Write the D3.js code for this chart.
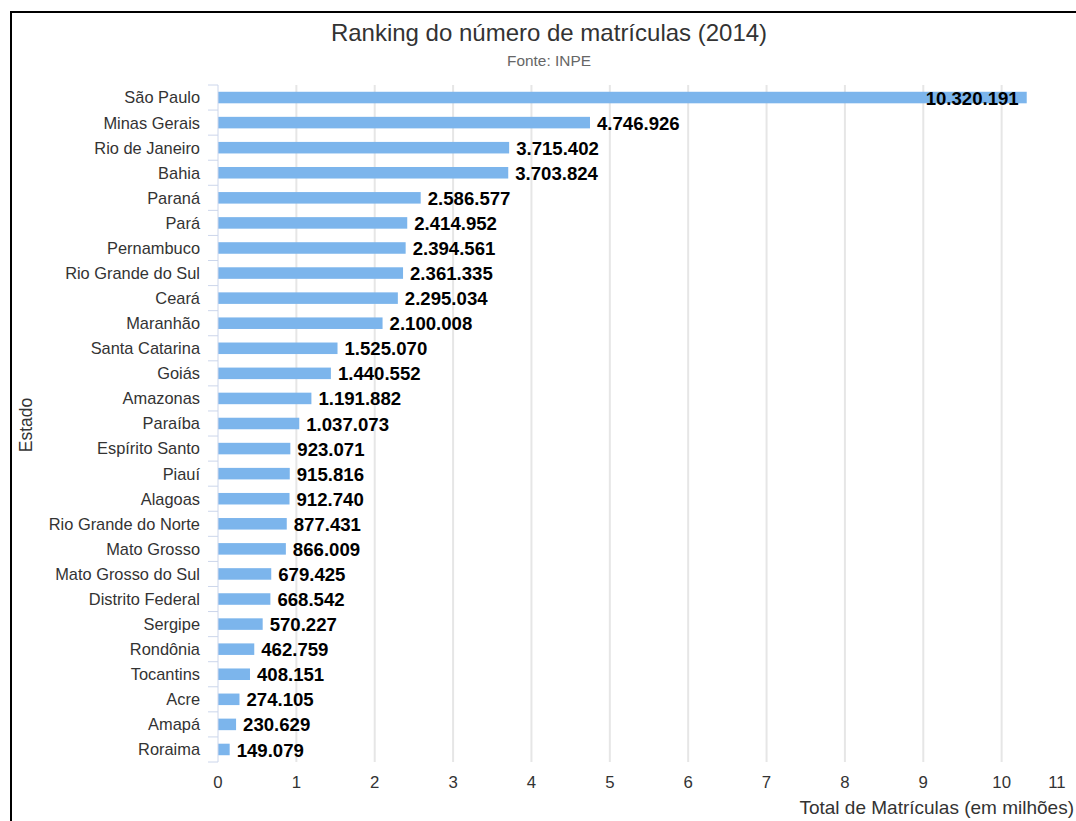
<!DOCTYPE html>
<html>
<head>
<meta charset="utf-8">
<script src="https://cdnjs.cloudflare.com/ajax/libs/d3/7.8.5/d3.min.js"></script>
<style>
  body { margin: 0; background: #fff; }
  svg { display: block; font-family: "Liberation Sans", Arial, sans-serif; }
</style>
</head>
<body>
<svg id="chart" width="1076" height="821"></svg>
<script>
// Estados ordenados pelo total de matrículas
const estados = ["São Paulo", "Minas Gerais", "Rio de Janeiro", "Bahia", "Paraná", "Pará",
  "Pernambuco", "Rio Grande do Sul", "Ceará", "Maranhão", "Santa Catarina", "Goiás",
  "Amazonas", "Paraíba", "Espírito Santo", "Piauí", "Alagoas", "Rio Grande do Norte",
  "Mato Grosso", "Mato Grosso do Sul", "Distrito Federal", "Sergipe", "Rondônia",
  "Tocantins", "Acre", "Amapá", "Roraima"];

const matriculas = [10320191, 4746926, 3715402, 3703824, 2586577, 2414952,
  2394561, 2361335, 2295034, 2100008, 1525070, 1440552,
  1191882, 1037073, 923071, 915816, 912740, 877431,
  866009, 679425, 668542, 570227, 462759,
  408151, 274105, 230629, 149079];

const xTicks = [0, 1, 2, 3, 4, 5, 6, 7, 8, 9, 10, 11];

const svg = d3.select("#chart");
const margin = { left: 218, top: 85, right: 1080, bottom: 762 };

// moldura preta (cortada à direita e embaixo)
svg.append("rect")
  .attr("x", 11).attr("y", 12)
  .attr("width", 1100).attr("height", 900)
  .attr("fill", "none").attr("stroke", "#000").attr("stroke-width", 2);

const x = d3.scaleLinear().domain([0, 11]).range([margin.left, margin.right]);
const y = d3.scaleBand().domain(estados).range([margin.top, margin.bottom]).paddingInner(0.54).paddingOuter(0.27);

// gridlines
svg.append("g").selectAll("line")
  .data(xTicks.slice(1))
  .enter().append("line")
    .attr("x1", d => x(d)).attr("x2", d => x(d))
    .attr("y1", margin.top).attr("y2", margin.bottom)
    .attr("stroke", "#e6e6e6").attr("stroke-width", 2);

// barras
svg.append("g").selectAll("rect")
  .data(estados)
  .enter().append("rect")
    .attr("x", x(0))
    .attr("y", d => y(d))
    .attr("width", (d, i) => x(matriculas[i] / 1e6) - x(0))
    .attr("height", y.bandwidth())
    .attr("fill", "#7cb5ec");

// eixo das categorias
const yAxis = svg.append("g");
yAxis.append("line")
  .attr("x1", x(0)).attr("x2", x(0))
  .attr("y1", margin.top).attr("y2", margin.bottom)
  .attr("stroke", "#ccd6eb").attr("stroke-width", 1);
yAxis.selectAll("line.tick")
  .data(d3.range(estados.length + 1))
  .enter().append("line")
    .attr("class", "tick")
    .attr("x1", x(0) - 10).attr("x2", x(0))
    .attr("y1", i => margin.top + i * (margin.bottom - margin.top) / estados.length)
    .attr("y2", i => margin.top + i * (margin.bottom - margin.top) / estados.length)
    .attr("stroke", "#ccd6eb");
yAxis.selectAll("text")
  .data(estados)
  .enter().append("text")
    .attr("x", 200)
    .attr("y", d => y(d) + y.bandwidth() / 2)
    .attr("dy", "0.36em")
    .attr("text-anchor", "end")
    .attr("font-size", 16.4)
    .attr("fill", "#333")
    .text(d => d);

// rótulos dos valores
const fmt = v => d3.format(",")(v).replace(/,/g, ".");
const inside = i => x(matriculas[i] / 1e6) + 200 > margin.right;
svg.append("g").selectAll("text")
  .data(estados)
  .enter().append("text")
    .attr("x", (d, i) => inside(i) ? x(matriculas[i] / 1e6) - 8 : x(matriculas[i] / 1e6) + 7)
    .attr("y", d => y(d) + y.bandwidth() / 2)
    .attr("dy", "0.38em")
    .attr("text-anchor", (d, i) => inside(i) ? "end" : "start")
    .attr("font-size", 18.6)
    .attr("font-weight", "bold")
    .attr("fill", "#000")
    .text((d, i) => fmt(matriculas[i]));

// eixo x (valores em milhões)
svg.append("g").selectAll("text")
  .data(xTicks)
  .enter().append("text")
    .attr("x", d => d === 11 ? 1057 : x(d))
    .attr("y", 788)
    .attr("text-anchor", "middle")
    .attr("font-size", 16.8)
    .attr("fill", "#333")
    .text(d => d);

// títulos
svg.append("text")
  .attr("x", 549).attr("y", 41)
  .attr("text-anchor", "middle")
  .attr("font-size", 24)
  .attr("fill", "#333")
  .text("Ranking do número de matrículas (2014)");

svg.append("text")
  .attr("x", 549).attr("y", 66)
  .attr("text-anchor", "middle")
  .attr("font-size", 15.4)
  .attr("fill", "#666")
  .text("Fonte: INPE");

svg.append("text")
  .attr("transform", "translate(32,425) rotate(-90)")
  .attr("text-anchor", "middle")
  .attr("font-size", 17.5)
  .attr("fill", "#333")
  .text("Estado");

svg.append("text")
  .attr("x", 1074).attr("y", 814)
  .attr("text-anchor", "end")
  .attr("font-size", 19)
  .attr("fill", "#333")
  .text("Total de Matrículas (em milhões)");
</script>
</body>
</html>
